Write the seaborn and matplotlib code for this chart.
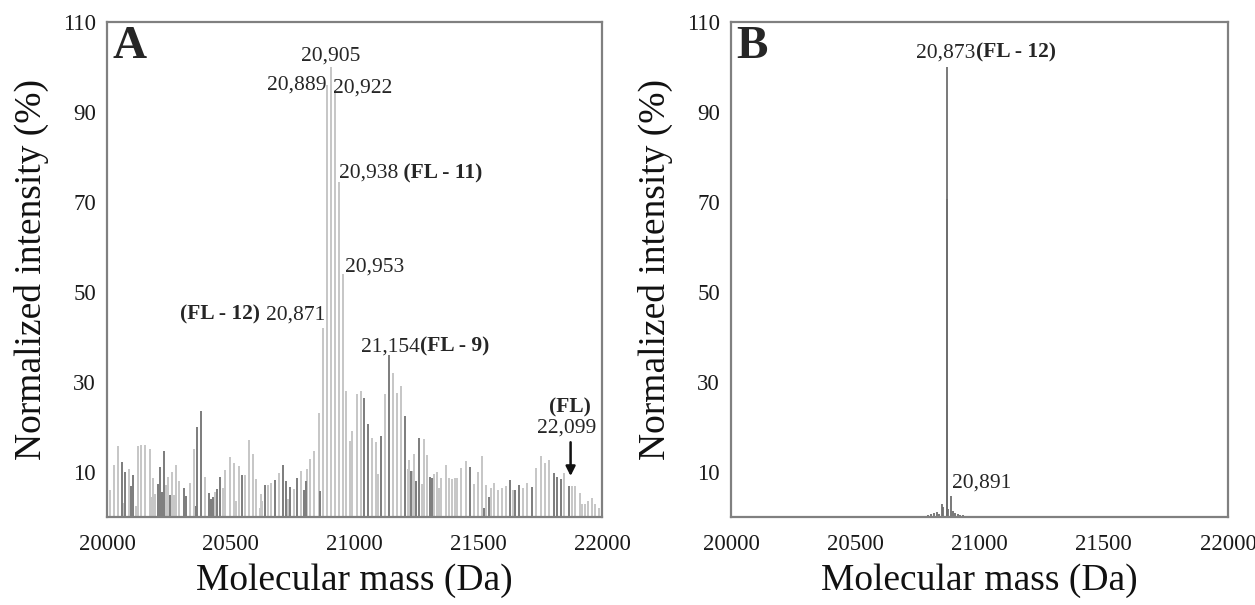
import numpy as np
import pandas as pd
import seaborn as sns
import matplotlib.pyplot as plt

# panel A, light grey peaks (mass in Da, intensity in %)
light_mass_a = [20010, 20027, 20043, 20065, 20088, 20115, 20124, 20139, 20155, 20172,
                20178, 20187, 20195, 20238, 20245, 20263, 20272, 20280, 20292, 20334,
                20350, 20396, 20436, 20467, 20477, 20498, 20511, 20521, 20532, 20559,
                20573, 20589, 20602, 20616, 20621, 20626, 20651, 20664, 20694, 20732,
                20756, 20784, 20808, 20822, 20838, 20855, 20874, 20889, 20905, 20922,
                20938, 20953, 20966, 20980, 20990, 21009, 21025, 21071, 21087, 21094,
                21124, 21154, 21172, 21188, 21215, 21222, 21235, 21242, 21272, 21280,
                21293, 21323, 21334, 21340, 21350, 21370, 21383, 21393, 21404, 21414,
                21430, 21451, 21484, 21500, 21514, 21531, 21552, 21565, 21579, 21596,
                21612, 21639, 21680, 21698, 21733, 21754, 21771, 21787, 21848, 21878,
                21892, 21909, 21919, 21930, 21944, 21958, 21971, 21989]
light_int_a = [6.1, 11.6, 15.7, 3.0, 10.7, 2.4, 15.7, 15.9, 15.9, 15.0,
               4.5, 8.7, 5.0, 7.0, 8.8, 9.9, 4.8, 11.6, 8.1, 7.6,
               15.1, 8.8, 5.5, 6.5, 10.4, 13.3, 12.1, 3.5, 11.3, 9.3,
               17.0, 14.1, 8.5, 2.0, 5.0, 3.5, 7.0, 7.5, 9.8, 4.1,
               6.3, 10.2, 10.6, 12.8, 14.7, 23.0, 42.0, 96.0, 100.0, 95.0,
               74.5, 54.0, 28.1, 16.9, 19.1, 27.4, 28.1, 17.6, 16.6, 9.6,
               27.4, 32.1, 27.6, 29.1, 10.6, 12.6, 10.2, 14.1, 7.3, 17.3,
               13.8, 9.5, 9.9, 6.5, 8.7, 11.6, 8.7, 8.4, 8.7, 8.7,
               10.8, 12.4, 7.4, 10.1, 13.6, 7.2, 6.4, 7.6, 6.1, 6.4,
               6.8, 6.1, 6.4, 7.6, 10.9, 13.5, 12.0, 12.7, 9.8, 6.8,
               6.8, 5.3, 2.9, 2.9, 3.5, 4.2, 2.9, 2.0]

# panel A, dark grey peaks
dark_mass_a = [20059, 20073, 20096, 20106, 20205, 20213, 20222, 20229, 20255, 20310,
               20319, 20360, 20365, 20380, 20410, 20418, 20428, 20446, 20458, 20546,
               20637, 20680, 20710, 20723, 20740, 20769, 20794, 20802, 20861, 21040,
               21056, 21107, 21139, 21202, 21228, 21249, 21262, 21305, 21312, 21466,
               21525, 21542, 21628, 21647, 21663, 21716, 21804, 21820, 21836, 21866]
dark_int_a = [12.2, 10.1, 6.8, 9.3, 7.3, 11.0, 5.6, 14.7, 4.8, 6.4,
              4.6, 2.4, 20.1, 23.5, 5.3, 3.9, 4.5, 6.3, 8.9, 9.4,
              7.0, 8.3, 11.5, 7.9, 6.6, 8.7, 5.9, 7.9, 5.8, 26.5,
              20.7, 18.0, 36.0, 22.4, 10.2, 8.0, 17.6, 8.9, 8.7, 11.0,
              2.0, 4.4, 8.3, 5.9, 7.2, 6.6, 9.8, 8.8, 8.5, 6.8]

# panel B peaks
mass_b = [20780, 20792, 20805, 20818, 20828, 20836, 20848, 20854, 20868, 20869,
          20870, 20874, 20885, 20895, 20902, 20912, 20922, 20935, 20950, 21850,
          21880, 21900]
int_b = [0.3, 0.5, 0.6, 0.8, 1.0, 0.7, 2.8, 2.2, 24.8, 70.7,
         100.0, 1.7, 4.7, 1.3, 0.9, 0.6, 0.5, 0.4, 0.3, 0.2,
         0.3, 0.2]

x_ticks = [20000, 20500, 21000, 21500, 22000]
y_ticks = [10, 30, 50, 70, 90, 110]

sns.set_theme(style="white")
plt.rcParams["font.family"] = ["Liberation Serif", "DejaVu Serif"]

spec_a = pd.concat([
    pd.DataFrame({"mass": light_mass_a, "intensity": light_int_a, "shade": "light"}),
    pd.DataFrame({"mass": dark_mass_a, "intensity": dark_int_a, "shade": "dark"}),
])
spec_b = pd.DataFrame({"mass": mass_b, "intensity": int_b})

fig = plt.figure(figsize=(12.55, 6.05), dpi=100)
ax_a = fig.add_axes([0.0853, 0.1455, 0.3944, 0.8181])
ax_b = fig.add_axes([0.5825, 0.1455, 0.3960, 0.8181])

shade_colors = {"light": "#c6c6c6", "dark": "#7c7c7c"}
for shade in ["light", "dark"]:
    sub = spec_a[spec_a["shade"] == shade]
    ax_a.vlines(sub["mass"], 0, sub["intensity"], color=shade_colors[shade], lw=1.4)

ax_b.vlines(spec_b["mass"], 0, spec_b["intensity"], color="#6e6e6e", lw=1.3)

for ax in [ax_a, ax_b]:
    ax.set_xlim(20000, 22000)
    ax.set_ylim(0, 110)
    ax.set_xticks(x_ticks)
    ax.set_yticks(y_ticks)
    ax.tick_params(direction="in", length=5, width=1.2, color="#808080",
                   labelsize=16.5, pad=8, labelcolor="#1a1a1a")
    ax.tick_params(axis="x", pad=12)
    for sp in ax.spines.values():
        sp.set_color("#808080")
        sp.set_linewidth(1.6)
    ax.set_xlabel("Molecular mass (Da)", fontsize=27, labelpad=6, color="#111111")
    ax.set_ylabel("Normalized intensity (%)", fontsize=27, labelpad=10, color="#111111")

fs = 15.5
ax_a.text(20020, 104.5, "A", fontsize=34, fontweight="bold", va="center", ha="left")
ax_b.text(20020, 104.5, "B", fontsize=34, fontweight="bold", va="center", ha="left")

ax_a.text(20905, 102.4, "20,905", fontsize=fs, ha="center", va="center")
ax_a.text(20885, 96.0, "20,889", fontsize=fs, ha="right", va="center")
ax_a.text(20913, 95.3, "20,922", fontsize=fs, ha="left", va="center")
t = ax_a.text(20937, 76.4, "20,938", fontsize=fs, ha="left", va="center")
ax_a.annotate(" (FL - 11)", xy=(1, 0.5), xycoords=t, va="center", ha="left",
              fontsize=fs, fontweight="bold")
ax_a.text(20961, 55.6, "20,953", fontsize=fs, ha="left", va="center")
t = ax_a.text(20881, 44.9, "20,871", fontsize=fs, ha="right", va="center")
ax_a.annotate("(FL - 12) ", xy=(0, 0.5), xycoords=t, va="center", ha="right",
              fontsize=fs, fontweight="bold")
t = ax_a.text(21026, 37.8, "21,154", fontsize=fs, ha="left", va="center")
ax_a.annotate("(FL - 9)", xy=(1, 0.5), xycoords=t, va="center", ha="left",
              fontsize=fs, fontweight="bold")
ax_a.text(21871, 24.4, "(FL)", fontsize=fs, fontweight="bold", ha="center", va="center")
ax_a.text(21858, 19.8, "22,099", fontsize=fs, ha="center", va="center")
ax_a.annotate("", xy=(21873, 9.1), xytext=(21873, 16.6),
              arrowprops=dict(arrowstyle="-|>", color="#111111", lw=1.8,
                              mutation_scale=14, shrinkA=0, shrinkB=0))

t = ax_b.text(20746, 103.2, "20,873", fontsize=fs, ha="left", va="center")
ax_b.annotate("(FL - 12)", xy=(1, 0.5), xycoords=t, va="center", ha="left",
              fontsize=fs, fontweight="bold")
ax_b.text(20890, 7.6, "20,891", fontsize=fs, ha="left", va="center")

fig.savefig("out.png", dpi=100, facecolor="white")
